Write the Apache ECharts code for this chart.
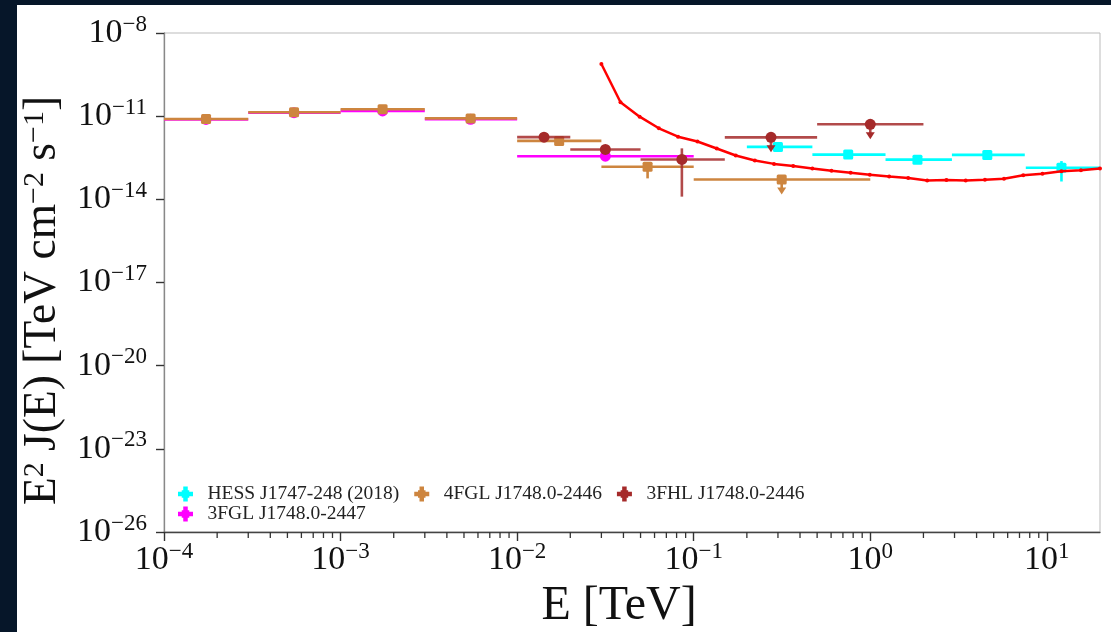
<!DOCTYPE html>
<html>
<head>
<meta charset="utf-8">
<script src="https://cdn.jsdelivr.net/npm/echarts@6/dist/echarts.min.js"></script>
<style>
  html, body { margin: 0; padding: 0; background: #061629; }
  #chart { position: absolute; left: 17px; top: 5px; width: 1094px; height: 627px; background: #fff; }
</style>
</head>
<body>
<div id="chart"></div>
<script>
// HESS J1747-248 (2018)
const hessE   = [0.30, 0.75, 1.85, 4.6, 12.1];
const hessElo = [0.20, 0.47, 1.22, 2.9, 7.6];
const hessEhi = [0.47, 1.22, 2.9, 7.5, 21];
const hessF   = [7.8e-13, 4.1e-13, 2.7e-13, 4.0e-13, 1.38e-13];
const hessFlo = [7.3e-13, 3.8e-13, 2.5e-13, 3.7e-13, 4.4e-14];
const hessFhi = [8.3e-13, 4.4e-13, 2.9e-13, 4.3e-13, 2.4e-13];
const hessUL  = [0, 0, 0, 0, 0];

// 4FGL J1748.0-2446
const fgl4E   = [1.73e-4, 5.45e-4, 1.73e-3, 5.45e-3, 1.73e-2, 5.48e-2, 0.315];
const fgl4Elo = [1e-4, 3e-4, 1e-3, 3e-3, 1e-2, 3e-2, 0.1];
const fgl4Ehi = [3e-4, 1e-3, 3e-3, 1e-2, 3e-2, 0.1, 1];
const fgl4F   = [7.9e-12, 1.38e-11, 1.78e-11, 8.3e-12, 1.28e-12, 1.5e-13, 5.2e-14];
const fgl4Flo = [7.4e-12, 1.32e-11, 1.7e-11, 7.9e-12, 1.15e-12, 5.7e-14, 5.2e-14];
const fgl4Fhi = [8.4e-12, 1.44e-11, 1.86e-11, 8.7e-12, 1.4e-12, 2.1e-13, 5.2e-14];
const fgl4UL  = [0, 0, 0, 0, 0, 0, 1];

// 3FHL J1748.0-2446
const fhlE   = [1.42e-2, 3.16e-2, 8.57e-2, 0.274, 1.0];
const fhlElo = [1e-2, 2e-2, 5e-2, 0.15, 0.5];
const fhlEhi = [2e-2, 5e-2, 0.15, 0.5, 2.0];
const fhlF   = [1.75e-12, 6.3e-13, 2.75e-13, 1.72e-12, 5.1e-12];
const fhlFlo = [1.6e-12, 5.8e-13, 1.25e-14, 1.72e-12, 5.1e-12];
const fhlFhi = [1.9e-12, 6.8e-13, 6.9e-13, 1.72e-12, 5.1e-12];
const fhlUL  = [0, 0, 0, 1, 1];

// 3FGL J1748.0-2447
const fgl3E   = [1.73e-4, 5.45e-4, 1.73e-3, 5.45e-3, 3.16e-2];
const fgl3Elo = [1e-4, 3e-4, 1e-3, 3e-3, 1e-2];
const fgl3Ehi = [3e-4, 1e-3, 3e-3, 1e-2, 0.1];
const fgl3F   = [7.6e-12, 1.33e-11, 1.55e-11, 7.7e-12, 3.6e-13];
const fgl3Flo = [7.2e-12, 1.27e-11, 1.48e-11, 7.3e-12, 3.3e-13];
const fgl3Fhi = [8.0e-12, 1.39e-11, 1.62e-11, 8.1e-12, 3.9e-13];
const fgl3UL  = [0, 0, 0, 0, 0];

// sensitivity curve (red)
const sensE = [0.030, 0.0385, 0.0494, 0.0635, 0.0815, 0.105, 0.135, 0.173, 0.222, 0.285,
               0.366, 0.470, 0.603, 0.774, 0.994, 1.28, 1.64, 2.10, 2.70, 3.47,
               4.46, 5.72, 7.35, 9.44, 12.1, 15.6, 20.0];
const sensF = [7.6e-10, 3.16e-11, 9.6e-12, 3.65e-12, 1.82e-12, 1.22e-12, 6.8e-13, 3.8e-13, 2.5e-13, 1.9e-13,
               1.59e-13, 1.29e-13, 1.07e-13, 9.1e-14, 7.7e-14, 6.65e-14, 5.9e-14, 4.8e-14, 5.0e-14, 4.8e-14,
               5.1e-14, 5.55e-14, 7.35e-14, 8.3e-14, 1.03e-13, 1.11e-13, 1.29e-13];

const xTickExp = [-4, -3, -2, -1, 0, 1];
const yTickExp = [-26, -23, -20, -17, -14, -11, -8];

const FONT = 'Liberation Serif';
const lg = Math.log10;
const xMin = -4, xMax = lg(20);
const yMin = -26, yMax = -8;

// matplotlib-like log minor ticks (2..9 x 10^k)
const minorTicks = [];
for (let d = -4; d <= 1; d++) {
    for (let k = 2; k <= 9; k++) {
        const v = d + lg(k);
        if (v < xMax) minorTicks.push(v);
    }
}

function rows(E, Elo, Ehi, F, Flo, Fhi, UL) {
    return E.map((e, i) => [lg(e), lg(F[i]), lg(Elo[i]), lg(Ehi[i]), lg(Flo[i]), lg(Fhi[i]), UL[i]]);
}

function errorBarItem(shape, size, color, lineOpacity) {
    return function (params, api) {
        const c = api.coord([api.value(0), api.value(1)]);
        const xl = api.coord([api.value(2), api.value(1)])[0];
        const xh = api.coord([api.value(3), api.value(1)])[0];
        const yl = api.coord([api.value(0), api.value(4)])[1];
        const yh = api.coord([api.value(0), api.value(5)])[1];
        const ls = {stroke: color, lineWidth: 2.6, opacity: lineOpacity};
        const children = [
            {type: 'line', shape: {x1: xl, y1: c[1], x2: xh, y2: c[1]}, style: ls},
            {type: 'line', shape: {x1: c[0], y1: yh, x2: c[0], y2: yl}, style: ls}
        ];
        if (api.value(6)) {
            children.push({type: 'line', shape: {x1: c[0], y1: c[1], x2: c[0], y2: c[1] + 9}, style: ls});
            children.push({type: 'polygon', shape: {points: [[c[0] - 4.5, c[1] + 8], [c[0] + 4.5, c[1] + 8], [c[0], c[1] + 15]]},
                style: {fill: color}});
        }
        if (shape === 'rect') {
            children.push({type: 'rect', shape: {x: c[0] - size / 2, y: c[1] - size / 2, width: size, height: size, r: 1.5},
                style: {fill: color}});
        } else {
            children.push({type: 'circle', shape: {cx: c[0], cy: c[1], r: size / 2}, style: {fill: color}});
        }
        return {type: 'group', children: children};
    };
}

// short tick below the energy axis for each minor value
function minorTickItem(params, api) {
    const p = api.coord([api.value(0), api.value(1)]);
    return {
        type: 'group',
        children: [{
            type: 'line',
            shape: {x1: p[0], y1: p[1], x2: p[0], y2: p[1] + 6},
            style: {stroke: '#333', lineWidth: 1.3}
        }]
    };
}

function expLabel(v) {
    const e = Math.round(v);
    const s = e < 0 ? '\u2212' + (-e) : String(e);
    return '{b|10}{s|' + s + '}';
}

const tickRich = {
    b: {fontFamily: FONT, fontSize: 34, color: '#111', lineHeight: 40},
    s: {fontFamily: FONT, fontSize: 23, color: '#111', verticalAlign: 'top', lineHeight: 22}
};

const plusIcon = 'path://M3.5,0L6.5,0L6.5,2.5L7.5,2.5L7.5,3.5L10,3.5L10,6.5L7.5,6.5L7.5,7.5L6.5,7.5L6.5,10L3.5,10L3.5,7.5L2.5,7.5L2.5,6.5L0,6.5L0,3.5L2.5,3.5L2.5,2.5L3.5,2.5Z';

const legendBase = {
    left: 156,
    itemWidth: 34,
    itemHeight: 15,
    itemGap: 15,
    icon: plusIcon,
    textStyle: {fontFamily: FONT, fontSize: 19.5, color: '#222'}
};

const names = {
    hess: 'HESS J1747-248 (2018)',
    fgl4: '4FGL J1748.0-2446',
    fhl: '3FHL J1748.0-2446',
    fgl3: '3FGL J1748.0-2447'
};

function errSeries(name, data, shape, size, color, lineOpacity) {
    return {
        name: name,
        type: 'custom',
        clip: true,
        itemStyle: {color: color},
        encode: {x: 0, y: 1},
        renderItem: errorBarItem(shape, size, color, lineOpacity),
        data: data
    };
}

const chart = echarts.init(document.getElementById('chart'));
chart.setOption({
    animation: false,
    grid: {left: 147, right: 11, top: 28, bottom: 100, show: true, borderColor: '#bbb', borderWidth: 1,
        outerBoundsMode: 'none', containLabel: false},
    legend: [
        Object.assign({top: 474, data: [names.hess, names.fgl4, names.fhl]}, legendBase),
        Object.assign({top: 494, data: [names.fgl3]}, legendBase)
    ],
    xAxis: {
        type: 'value',
        min: xMin,
        max: xMax,
        name: 'E [TeV]',
        nameLocation: 'middle',
        nameGap: 40,
        nameTextStyle: {fontFamily: FONT, fontSize: 48, color: '#111', padding: [0, 26, 0, 0]},
        axisLine: {onZero: false, lineStyle: {color: '#444', width: 1.3}},
        axisTick: {length: 9, lineStyle: {color: '#333', width: 1.4}, customValues: xTickExp},
        axisLabel: {formatter: expLabel, rich: tickRich, margin: 8, customValues: xTickExp},
        splitLine: {show: false}
    },
    yAxis: {
        type: 'value',
        min: yMin,
        max: yMax,
        interval: 3,
        name: 'E{s|2} J(E) [TeV cm{s|\u22122} s{s|\u22121}]',
        nameLocation: 'middle',
        nameGap: 92,
        nameTextStyle: {
            fontFamily: FONT, fontSize: 45.5, color: '#111', padding: [0, 36, 0, 0],
            rich: {s: {fontFamily: FONT, fontSize: 30, color: '#111', verticalAlign: 'top', lineHeight: 30}}
        },
        axisLine: {onZero: false, lineStyle: {color: '#888', width: 1.3}},
        axisTick: {length: 8, lineStyle: {color: '#333', width: 1.4}, customValues: yTickExp},
        axisLabel: {formatter: expLabel, rich: tickRich, margin: 17, customValues: yTickExp},
        splitLine: {show: false}
    },
    series: [
        {
            name: 'minorTicks',
            type: 'custom',
            silent: true,
            clip: false,
            z: 5,
            encode: {x: 0, y: 1},
            renderItem: minorTickItem,
            data: minorTicks.map(v => [v, yMin])
        },
        errSeries(names.hess, rows(hessE, hessElo, hessEhi, hessF, hessFlo, hessFhi, hessUL), 'rect', 10, '#00ffff', 1),
        errSeries(names.fgl3, rows(fgl3E, fgl3Elo, fgl3Ehi, fgl3F, fgl3Flo, fgl3Fhi, fgl3UL), 'circle', 11, '#ff00ff', 1),
        errSeries(names.fgl4, rows(fgl4E, fgl4Elo, fgl4Ehi, fgl4F, fgl4Flo, fgl4Fhi, fgl4UL), 'rect', 10, '#cd853f', 1),
        errSeries(names.fhl, rows(fhlE, fhlElo, fhlEhi, fhlF, fhlFlo, fhlFhi, fhlUL), 'circle', 11, '#a52a2a', 0.85),
        {
            name: 'sensitivity',
            type: 'line',
            data: sensE.map((e, i) => [lg(e), lg(sensF[i])]),
            symbol: 'circle',
            symbolSize: 4,
            lineStyle: {color: '#ff0000', width: 2.5},
            itemStyle: {color: '#ff0000'},
            z: 3
        }
    ]
});
</script>
</body>
</html>
